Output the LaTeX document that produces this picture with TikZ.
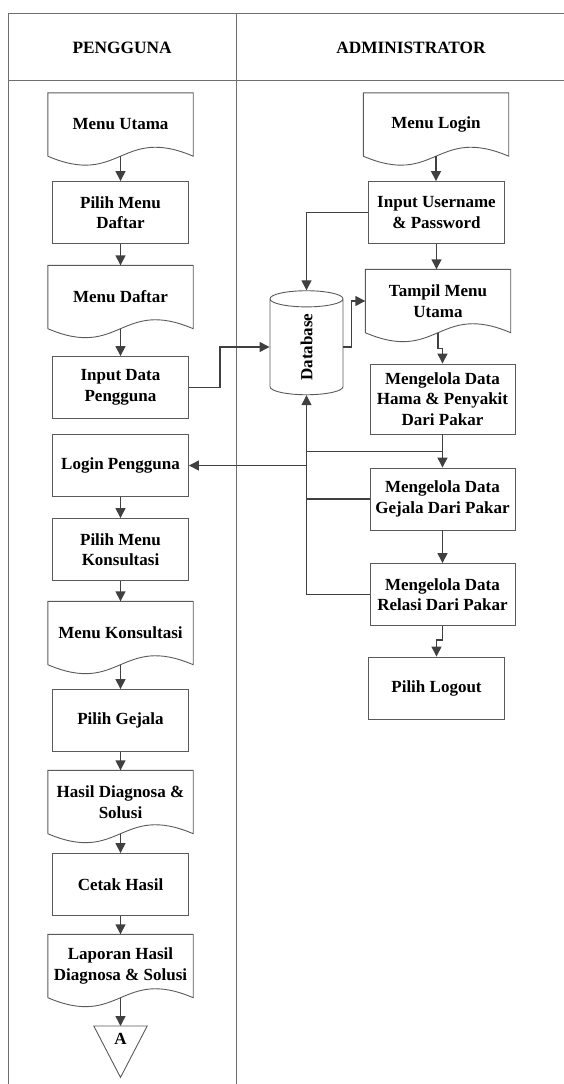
\documentclass[tikz,border=0pt]{standalone}
\usepackage{fontspec}
\setmainfont{Liberation Serif}
\usetikzlibrary{arrows.meta,shapes.geometric}
\definecolor{linegray}{HTML}{404040}
\definecolor{boxgray}{HTML}{5A5A5A}
\definecolor{lanegray}{HTML}{6E6E6E}

\begin{document}
\begin{tikzpicture}[x=1pt, y=-1pt,
		font=\fontsize{17}{20.5}\selectfont\bfseries,
		proc_style/.style={rectangle,draw=boxgray,line width=0.9pt,fill=white,align=center,minimum width=136pt,minimum height=62pt,inner sep=2pt},
		doc_style/.style={rectangle,align=center,minimum width=145pt,minimum height=63pt,inner sep=2pt},
		db_style/.style={cylinder,shape border rotate=90,aspect=1.35,draw=boxgray,line width=0.9pt,minimum width=73pt,minimum height=104pt,inner sep=0pt},
		off_style/.style={rectangle,anchor=north,minimum width=53pt,minimum height=51pt,inner sep=0pt,text height=18pt,text depth=33pt},
		head_style/.style={font=\fontsize{17.3}{20}\selectfont\bfseries},
		lane_style/.style={draw=lanegray,line width=0.9pt},
		box_line/.style={draw=boxgray,line width=0.9pt},
		line_style/.style={draw=linegray,line width=1.4pt},
		edge_style/.style={line_style,-{Triangle[length=10pt,width=10pt]}}]

	\useasboundingbox (0,0) rectangle (563,1084);

	% lanes
	\draw[lane_style] (8.5,1090) -- (8.5,13) -- (570,13);
	\draw[lane_style] (8.5,80) -- (570,80);
	\draw[lane_style] (236.5,13) -- (236.5,1090);
	\node[head_style] (hpengguna) at (122,48) {PENGGUNA};
	\node[head_style] (hadmin) at (411,48) {ADMINISTRATOR};

	% pengguna
	\node[doc_style] (mutama) at (120.5,124.5) {Menu Utama};
	\node[proc_style] (pdaftar) at (120.5,212.5) {Pilih Menu\\Daftar};
	\node[doc_style] (mdaftar) at (120.5,297) {Menu Daftar};
	\node[proc_style] (indata) at (120.5,387.5) {Input Data\\Pengguna};
	\node[proc_style] (login) at (120.5,465.5) {Login Pengguna};
	\node[proc_style] (pkonsul) at (120.5,549.5) {Pilih Menu\\Konsultasi};
	\node[doc_style] (mkonsul) at (120.5,633) {Menu Konsultasi};
	\node[proc_style] (pgejala) at (120.5,720.5) {Pilih Gejala};
	\node[doc_style] (hasil) at (120.5,802) {Hasil Diagnosa \&\\Solusi};
	\node[proc_style] (cetak) at (120.5,884.5) {Cetak Hasil};
	\node[doc_style] (laporan) at (120.5,966) {Laporan Hasil\\Diagnosa \& Solusi};
	\node[off_style] (offA) at (120.5,1026) {A};

	% administrator
	\node[doc_style] (mlogin) at (436,124.5) {Menu Login};
	\node[proc_style] (inuser) at (436.5,212.5) {Input Username\\\& Password};
	\node[doc_style] (tampil) at (438,301) {Tampil Menu\\Utama};
	\node[proc_style,minimum width=145pt,minimum height=70pt] (hama) at (442.5,399) {Mengelola Data\\Hama \& Penyakit\\Dari Pakar};
	\node[proc_style,minimum width=145pt] (gejala) at (442.5,499) {Mengelola Data\\Gejala Dari Pakar};
	\node[proc_style,minimum width=145pt] (relasi) at (442.5,594.5) {Mengelola Data\\Relasi Dari Pakar};
	\node[proc_style] (logout) at (436.5,688) {Pilih Logout};
	\node[db_style] (db) at (306.5,347) {\rotatebox{90}{Database}};

	% document outlines
	\foreach \d in {mutama,mdaftar,mkonsul,hasil,laporan,mlogin,tampil}
		\draw[box_line] (\d.south west) -- (\d.north west) -- (\d.north east) -- (\d.south east)
			.. controls +(-72.5,-31) and +(72.5,31) .. (\d.south west);
	\draw[box_line] (offA.north west) -- (offA.north east) -- (offA.south) -- cycle;

	\draw[edge_style] (mutama.south) -- (pdaftar.north);
	\draw[edge_style] (pdaftar.south) -- (mdaftar.north);
	\draw[edge_style] (mdaftar.south) -- (indata.north);
	\draw[edge_style] (login.south) -- (pkonsul.north);
	\draw[edge_style] (pkonsul.south) -- (mkonsul.north);
	\draw[edge_style] (mkonsul.south) -- (pgejala.north);
	\draw[edge_style] (pgejala.south) -- (hasil.north);
	\draw[edge_style] (hasil.south) -- (cetak.north);
	\draw[edge_style] (cetak.south) -- (laporan.north);
	\draw[edge_style] (laporan.south) -- (offA.north);

	\draw[edge_style] (mlogin.south) -- (mlogin.south |- inuser.north);
	\draw[edge_style] (inuser.south) -- (inuser.south |- tampil.north);
	\draw[edge_style] (tampil.south) -- ++(0,16) -| (hama.north);
	\draw[edge_style] (hama.south) -- (gejala.north);
	\draw[edge_style] (gejala.south) -- (relasi.north);
	\draw[edge_style] (relasi.south) -- ++(0,14) -| (logout.north);

	\draw[edge_style] (inuser.west) -| (db.north);
	\draw[edge_style] (indata.east) -- ++(31,0) |- (db.west);
	\draw[edge_style] (db.east) -- ++(8,0) |- (tampil.west);
	\draw[edge_style] (relasi.west) -| (db.south);
	\draw[line_style] (gejala.west) -- (gejala.west -| db.south);
	\draw[line_style] (hama.south) ++(0,17) coordinate (jhama) -- (jhama -| db.south);
	\draw[edge_style] (login.east -| db.south) -- (login.east);
\end{tikzpicture}
\end{document}
